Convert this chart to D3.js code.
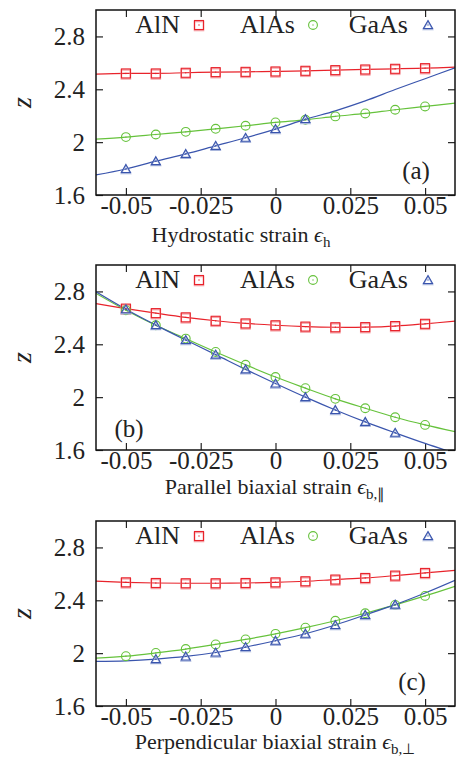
<!DOCTYPE html>
<html>
<head>
<meta charset="utf-8">
<script src="https://cdn.jsdelivr.net/npm/d3@7"></script>
<style>
  body { margin: 0; background: #fff; }
</style>
</head>
<body>
<svg id="fig" width="463" height="760"></svg>
<script>
// ---- data ----
const strain = [-0.05, -0.04, -0.03, -0.02, -0.01, 0, 0.01, 0.02, 0.03, 0.04, 0.05];
const fitStrain = [-0.06, -0.05, -0.04, -0.03, -0.02, -0.01, 0, 0.01, 0.02, 0.03, 0.04, 0.05, 0.06];

const xTicks = [-0.05, -0.025, 0, 0.025, 0.05];
const xTickLabels = ["-0.05", "-0.025", "0", "0.025", "0.05"];
const yTicks = [1.6, 2, 2.4, 2.8];
const yTickLabels = ["1.6", "2", "2.4", "2.8"];
const materials = ["AlN", "AlAs", "GaAs"];

// (a) hydrostatic strain
const hydroAlN = [2.52, 2.52, 2.525, 2.53, 2.532, 2.535, 2.54, 2.545, 2.55, 2.555, 2.56];
const hydroAlNFit = [2.515, 2.52, 2.52, 2.525, 2.53, 2.532, 2.535, 2.54, 2.545, 2.55, 2.555, 2.56, 2.567];
const hydroAlAs = [2.038, 2.058, 2.078, 2.101, 2.124, 2.149, 2.169, 2.195, 2.217, 2.245, 2.27];
const hydroAlAsFit = [2.023, 2.038, 2.058, 2.078, 2.101, 2.124, 2.149, 2.169, 2.195, 2.217, 2.245, 2.27, 2.296];
const hydroGaAsStrain = [-0.05, -0.04, -0.03, -0.02, -0.01, 0, 0.01];
const hydroGaAs = [1.797, 1.856, 1.911, 1.972, 2.033, 2.099, 2.175];
const hydroGaAsFit = [1.752, 1.797, 1.856, 1.911, 1.972, 2.033, 2.099, 2.172, 2.237, 2.312, 2.398, 2.48, 2.562];

// (b) parallel biaxial strain
const parAlN = [2.67, 2.636, 2.604, 2.578, 2.558, 2.544, 2.534, 2.529, 2.53, 2.538, 2.555];
const parAlNFit = [2.708, 2.67, 2.636, 2.604, 2.578, 2.558, 2.544, 2.534, 2.529, 2.53, 2.538, 2.555, 2.575];
const parAlAs = [2.658, 2.544, 2.443, 2.342, 2.245, 2.152, 2.068, 1.987, 1.916, 1.848, 1.79];
const parAlAsFit = [2.785, 2.658, 2.544, 2.443, 2.342, 2.245, 2.152, 2.068, 1.987, 1.916, 1.848, 1.79, 1.739];
const parGaAsStrain = [-0.05, -0.04, -0.03, -0.02, -0.01, 0, 0.01, 0.02, 0.03, 0.04];
const parGaAs = [2.665, 2.545, 2.432, 2.322, 2.21, 2.103, 2.0, 1.903, 1.813, 1.73];
const parGaAsFit = [2.797, 2.665, 2.545, 2.432, 2.322, 2.21, 2.103, 2.0, 1.903, 1.813, 1.73, 1.65, 1.575];

// (c) perpendicular biaxial strain
const perpAlN = [2.536, 2.531, 2.529, 2.529, 2.531, 2.536, 2.544, 2.557, 2.569, 2.587, 2.607];
const perpAlNFit = [2.545, 2.536, 2.531, 2.529, 2.529, 2.531, 2.536, 2.544, 2.557, 2.569, 2.587, 2.607, 2.627];
const perpAlAs = [1.977, 2.002, 2.031, 2.066, 2.104, 2.146, 2.193, 2.245, 2.302, 2.365, 2.433];
const perpAlAsFit = [1.962, 1.977, 2.002, 2.031, 2.066, 2.104, 2.146, 2.193, 2.245, 2.302, 2.365, 2.433, 2.505];
const perpGaAsStrain = [-0.04, -0.03, -0.02, -0.01, 0, 0.01, 0.02, 0.03, 0.04];
const perpGaAs = [1.955, 1.975, 2.005, 2.046, 2.094, 2.147, 2.213, 2.289, 2.367];
const perpGaAsFit = [1.937, 1.942, 1.955, 1.975, 2.005, 2.046, 2.094, 2.147, 2.213, 2.289, 2.367, 2.455, 2.551];

// ---- layout ----
const colors = { AlN: "#e8232b", AlAs: "#66c23c", GaAs: "#3a55ad" };
const serif = "'Liberation Serif', 'Times New Roman', serif";
const left = 96, right = 455, plotH = 185;

const panels = [
  { top: 10, tag: "(a)", tagX: 416, tagY: 179, label: "Hydrostatic strain ", sub: "h", labelX: 241, labelDy: 47,
    series: [
      { name: "AlN", xs: strain, ys: hydroAlN, fit: hydroAlNFit },
      { name: "AlAs", xs: strain, ys: hydroAlAs, fit: hydroAlAsFit },
      { name: "GaAs", xs: hydroGaAsStrain, ys: hydroGaAs, fit: hydroGaAsFit }] },
  { top: 265, tag: "(b)", tagX: 129, tagY: 437, label: "Parallel biaxial strain ", sub: "b,\u2225", labelX: 275, labelDy: 44,
    series: [
      { name: "AlN", xs: strain, ys: parAlN, fit: parAlNFit },
      { name: "AlAs", xs: strain, ys: parAlAs, fit: parAlAsFit },
      { name: "GaAs", xs: parGaAsStrain, ys: parGaAs, fit: parGaAsFit }] },
  { top: 521, tag: "(c)", tagX: 412, tagY: 690, label: "Perpendicular biaxial strain ", sub: "b,\u22a5", labelX: 275, labelDy: 43,
    series: [
      { name: "AlN", xs: strain, ys: perpAlN, fit: perpAlNFit },
      { name: "AlAs", xs: strain, ys: perpAlAs, fit: perpAlAsFit },
      { name: "GaAs", xs: perpGaAsStrain, ys: perpGaAs, fit: perpGaAsFit }] }
];

const svg = d3.select("#fig");
const x = d3.scaleLinear().domain([-0.06, 0.06]).range([left, right]);

function txt(sel) {
  return sel.style("font-family", serif).attr("fill", "#222");
}

function marker(g, name, cx, cy) {
  const c = colors[name];
  if (name === "AlN") {
    g.append("rect").attr("x", cx - 4.5).attr("y", cy - 3.5).attr("width", 9).attr("height", 9)
      .attr("fill", "none").attr("stroke", "#f5a3a8").attr("stroke-width", 1.6);
    g.append("rect").attr("x", cx - 4.5).attr("y", cy - 4.5).attr("width", 9).attr("height", 9)
      .attr("fill", "none").attr("stroke", c).attr("stroke-width", 1.1);
  } else if (name === "AlAs") {
    g.append("circle").attr("cx", cx).attr("cy", cy).attr("r", 4.4)
      .attr("fill", "none").attr("stroke", c).attr("stroke-width", 1.1);
  } else {
    const tri = `M${cx},${cy - 4.5}L${cx + 4.6},${cy + 3.5}L${cx - 4.6},${cy + 3.5}Z`;
    g.append("path").attr("d", tri).attr("transform", "translate(0,1)")
      .attr("fill", "none").attr("stroke", "#a9b6dc").attr("stroke-width", 1.4);
    g.append("path").attr("d", tri)
      .attr("fill", "none").attr("stroke", c).attr("stroke-width", 1.1);
  }
  g.append("circle").attr("cx", cx).attr("cy", cy).attr("r", 0.7).attr("fill", c);
}

panels.forEach((p, i) => {
  const y = d3.scaleLinear().domain([1.6, 3.0]).range([p.top + plotH, p.top]);
  const g = svg.append("g");

  const clipId = "clip" + i;
  svg.append("clipPath").attr("id", clipId).append("rect")
    .attr("x", left).attr("y", p.top).attr("width", right - left).attr("height", plotH);

  // axes, ticks pointing inward on all four sides
  const bottom = g.append("g").attr("transform", `translate(0,${p.top + plotH})`)
    .call(d3.axisBottom(x).tickValues(xTicks).tickFormat((d, k) => xTickLabels[k]).tickSize(-7).tickPadding(1));
  const topAx = g.append("g").attr("transform", `translate(0,${p.top})`)
    .call(d3.axisTop(x).tickValues(xTicks).tickFormat("").tickSize(-7));
  const leftAx = g.append("g").attr("transform", `translate(${left},0)`)
    .call(d3.axisLeft(y).tickValues(yTicks).tickFormat((d, k) => yTickLabels[k]).tickSize(-7).tickPadding(11));
  const rightAx = g.append("g").attr("transform", `translate(${right},0)`)
    .call(d3.axisRight(y).tickValues(yTicks).tickFormat("").tickSize(-7));
  [bottom, topAx, leftAx, rightAx].forEach(a => {
    a.attr("font-family", null);
    a.select(".domain").remove();
    a.selectAll("line").attr("stroke", "#222").attr("stroke-width", 1.2);
    txt(a.selectAll("text")).attr("font-size", 25);
  });

  // fitted curves
  const line = d3.line().x(d => x(d[0])).y(d => y(d[1])).curve(d3.curveCatmullRom);
  const lines = g.append("g").attr("clip-path", `url(#${clipId})`);
  p.series.forEach(s => {
    lines.append("path").datum(fitStrain.map((v, k) => [v, s.fit[k]]))
      .attr("d", line).attr("fill", "none").attr("stroke", colors[s.name]).attr("stroke-width", 1.2);
  });

  // data points
  const pts = g.append("g").attr("clip-path", `url(#${clipId})`);
  p.series.forEach(s => {
    s.xs.forEach((v, k) => marker(pts, s.name, x(v), y(s.ys[k])));
  });

  // frame
  g.append("rect").attr("x", left).attr("y", p.top).attr("width", right - left).attr("height", plotH)
    .attr("fill", "none").attr("stroke", "#111").attr("stroke-width", 1.5);

  // legend
  const legTextX = [180, 295, 408], legMarkX = [199, 313, 428];
  materials.forEach((m, k) => {
    txt(g.append("text")).attr("x", legTextX[k]).attr("y", p.top + 23).attr("text-anchor", "end")
      .attr("font-size", 26).text(m);
    marker(g, m, legMarkX[k], p.top + 15);
  });

  // panel tag
  txt(g.append("text")).attr("x", p.tagX).attr("y", p.tagY).attr("text-anchor", "middle")
    .attr("font-size", 25).text(p.tag);

  // y label
  txt(g.append("text")).attr("transform", `translate(31,${p.top + plotH / 2}) rotate(-90)`)
    .attr("text-anchor", "middle").attr("font-size", 28).attr("font-style", "italic").text("z");

  // x label
  const xl = txt(g.append("text")).attr("x", p.labelX).attr("y", p.top + plotH + p.labelDy)
    .attr("text-anchor", "middle").attr("font-size", 22);
  xl.append("tspan").text(p.label);
  xl.append("tspan").attr("font-style", "italic").text("\u03f5");
  xl.append("tspan").attr("font-size", 15).attr("dy", 5).text(p.sub);
});
</script>
</body>
</html>
